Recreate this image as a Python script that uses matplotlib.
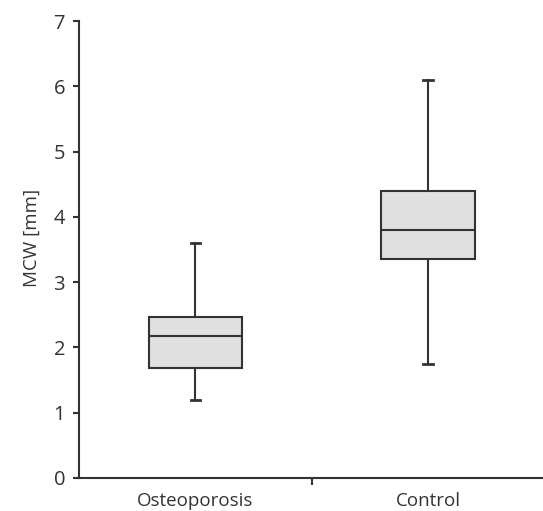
import matplotlib
matplotlib.use("Agg")
import matplotlib.pyplot as plt

# 数据
groups = ["Osteoporosis", "Control"]
whislo = [1.2, 1.75]
q1 = [1.69, 3.35]
med = [2.18, 3.80]
q3 = [2.46, 4.40]
whishi = [3.60, 6.10]

plt.rcParams['font.family'] = ['Open Sans', 'DejaVu Sans']

fig = plt.figure(figsize=(5.43, 5.11), dpi=100)
ax = fig.add_axes([0.1455, 0.0646, 0.857, 0.8943])

stats = []
for i in range(len(groups)):
    stats.append({"label": groups[i], "whislo": whislo[i], "q1": q1[i],
                  "med": med[i], "q3": q3[i], "whishi": whishi[i], "fliers": []})

edge = "#333333"
ax.bxp(stats, positions=[1, 2], widths=0.4, showfliers=False, patch_artist=True,
       boxprops=dict(facecolor="#e0e0e0", edgecolor=edge, linewidth=1.5),
       medianprops=dict(color=edge, linewidth=1.5),
       whiskerprops=dict(color=edge, linewidth=1.5),
       capprops=dict(color=edge, linewidth=2),
       capwidths=0.04)

ax.set_xlim(0.5, 2.5)
ax.set_ylim(0, 7)
ax.set_yticks(range(0, 8))
ax.set_xticks([1.5])
ax.set_xticklabels([""])
for i, g in enumerate(groups):
    ax.text(i + 1, -0.22, g, ha="center", va="top", fontsize=13.5, color="#333333")

ax.spines['top'].set_visible(False)
ax.spines['right'].set_visible(False)
for s in ['left', 'bottom']:
    ax.spines[s].set_linewidth(1.5)
    ax.spines[s].set_color(edge)
ax.tick_params(axis='y', length=4, width=1.5, color=edge, labelsize=14.5, labelcolor="#333333", pad=6)
ax.tick_params(axis='x', length=5, width=1.5, color=edge)
ax.set_ylabel("MCW [mm]", fontsize=13.5, color="#333333")
ax.yaxis.set_label_coords(-0.083, 0.525)

fig.savefig("out.png", dpi=100)
plt.close()
